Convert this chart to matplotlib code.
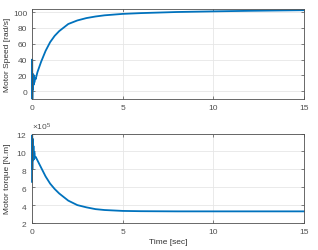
import numpy as np
import matplotlib
matplotlib.use('Agg')
import matplotlib.pyplot as plt

# speed trace
t_speed = [0, 0.01, 0.02, 0.035, 0.05, 0.07, 0.09, 0.11, 0.13, 0.16, 0.2, 0.3, 0.5, 0.75,
           1.0, 1.25, 1.5, 2.0, 2.5, 3.0, 3.5, 4.0, 5.0, 6.0, 7.0, 8.0, 10.0, 12.0, 15.0]
speed = [0, 40, -10, 22, 2, 18, 8, 20, 11, 17, 15, 24, 37, 51,
         62, 70, 76, 85, 89.5, 92.5, 94.5, 96, 97.8, 98.8, 99.5, 100.2, 101, 101.7, 102.5]

# torque trace (N.m)
t_torque = [0, 0.01, 0.02, 0.04, 0.06, 0.08, 0.1, 0.13, 0.16, 0.2, 0.3, 0.5, 0.75, 1.0,
            1.25, 1.5, 2.0, 2.5, 3.0, 3.5, 4.0, 5.0, 6.0, 8.0, 10.0, 12.0, 15.0]
torque = [6.6e5, 11.8e5, 8.0e5, 11.4e5, 9.0e5, 10.6e5, 9.1e5, 9.9e5, 9.3e5, 9.4e5, 9.0e5, 8.2e5, 7.2e5, 6.4e5,
          5.8e5, 5.3e5, 4.5e5, 4.0e5, 3.75e5, 3.55e5, 3.45e5, 3.35e5, 3.32e5, 3.3e5, 3.3e5, 3.3e5, 3.3e5]

blue = '#0072BD'
plt.rcParams['font.family'] = 'Liberation Sans'
plt.rcParams['font.size'] = 6
plt.rcParams['mathtext.fontset'] = 'custom'
plt.rcParams['mathtext.rm'] = 'Liberation Sans'

fig = plt.figure(figsize=(3.18, 2.51), dpi=100)
W, H = 318, 251
ax1 = fig.add_axes([32 / W, 1 - 100 / H, 272 / W, 90 / H])
ax2 = fig.add_axes([32 / W, 1 - 224 / H, 272 / W, 89.5 / H])


def style(ax):
    ax.grid(True, color='#e6e6e6', lw=0.6)
    ax.set_axisbelow(True)
    ax.tick_params(direction='in', length=2.5, top=True, right=True,
                   colors='#505050', labelsize=6, width=0.5)
    for s in ax.spines.values():
        s.set_color('#505050')
        s.set_linewidth(0.6)
    ax.set_xlim(0, 15)
    ax.set_xticks([0, 5, 10, 15])


ax1.plot(t_speed, speed, color=blue, lw=1.3, clip_on=False)
style(ax1)
ax1.set_ylim(-10, 104)
ax1.set_yticks([0, 20, 40, 60, 80, 100])
ax1.set_ylabel('Motor Speed [rad/s]', fontsize=6, color='#333333')
ax1.yaxis.set_label_coords(-21 / 272, 0.5)

ax2.plot(t_torque, torque, color=blue, lw=1.3, clip_on=False)
style(ax2)
ax2.set_ylim(2e5, 12e5)
ax2.set_yticks([2e5, 4e5, 6e5, 8e5, 10e5, 12e5])
ax2.ticklabel_format(axis='y', style='sci', scilimits=(5, 5), useMathText=True)
ax2.yaxis.get_offset_text().set_fontsize(6)
ax2.yaxis.get_offset_text().set_color('#505050')
ax2.set_ylabel('Motor torque [N.m]', fontsize=6, color='#333333')
ax2.yaxis.set_label_coords(-21 / 272, 0.5)
ax2.set_xlabel('Time [sec]', fontsize=6, color='#333333', labelpad=2)

fig.savefig('out.png', dpi=100)
